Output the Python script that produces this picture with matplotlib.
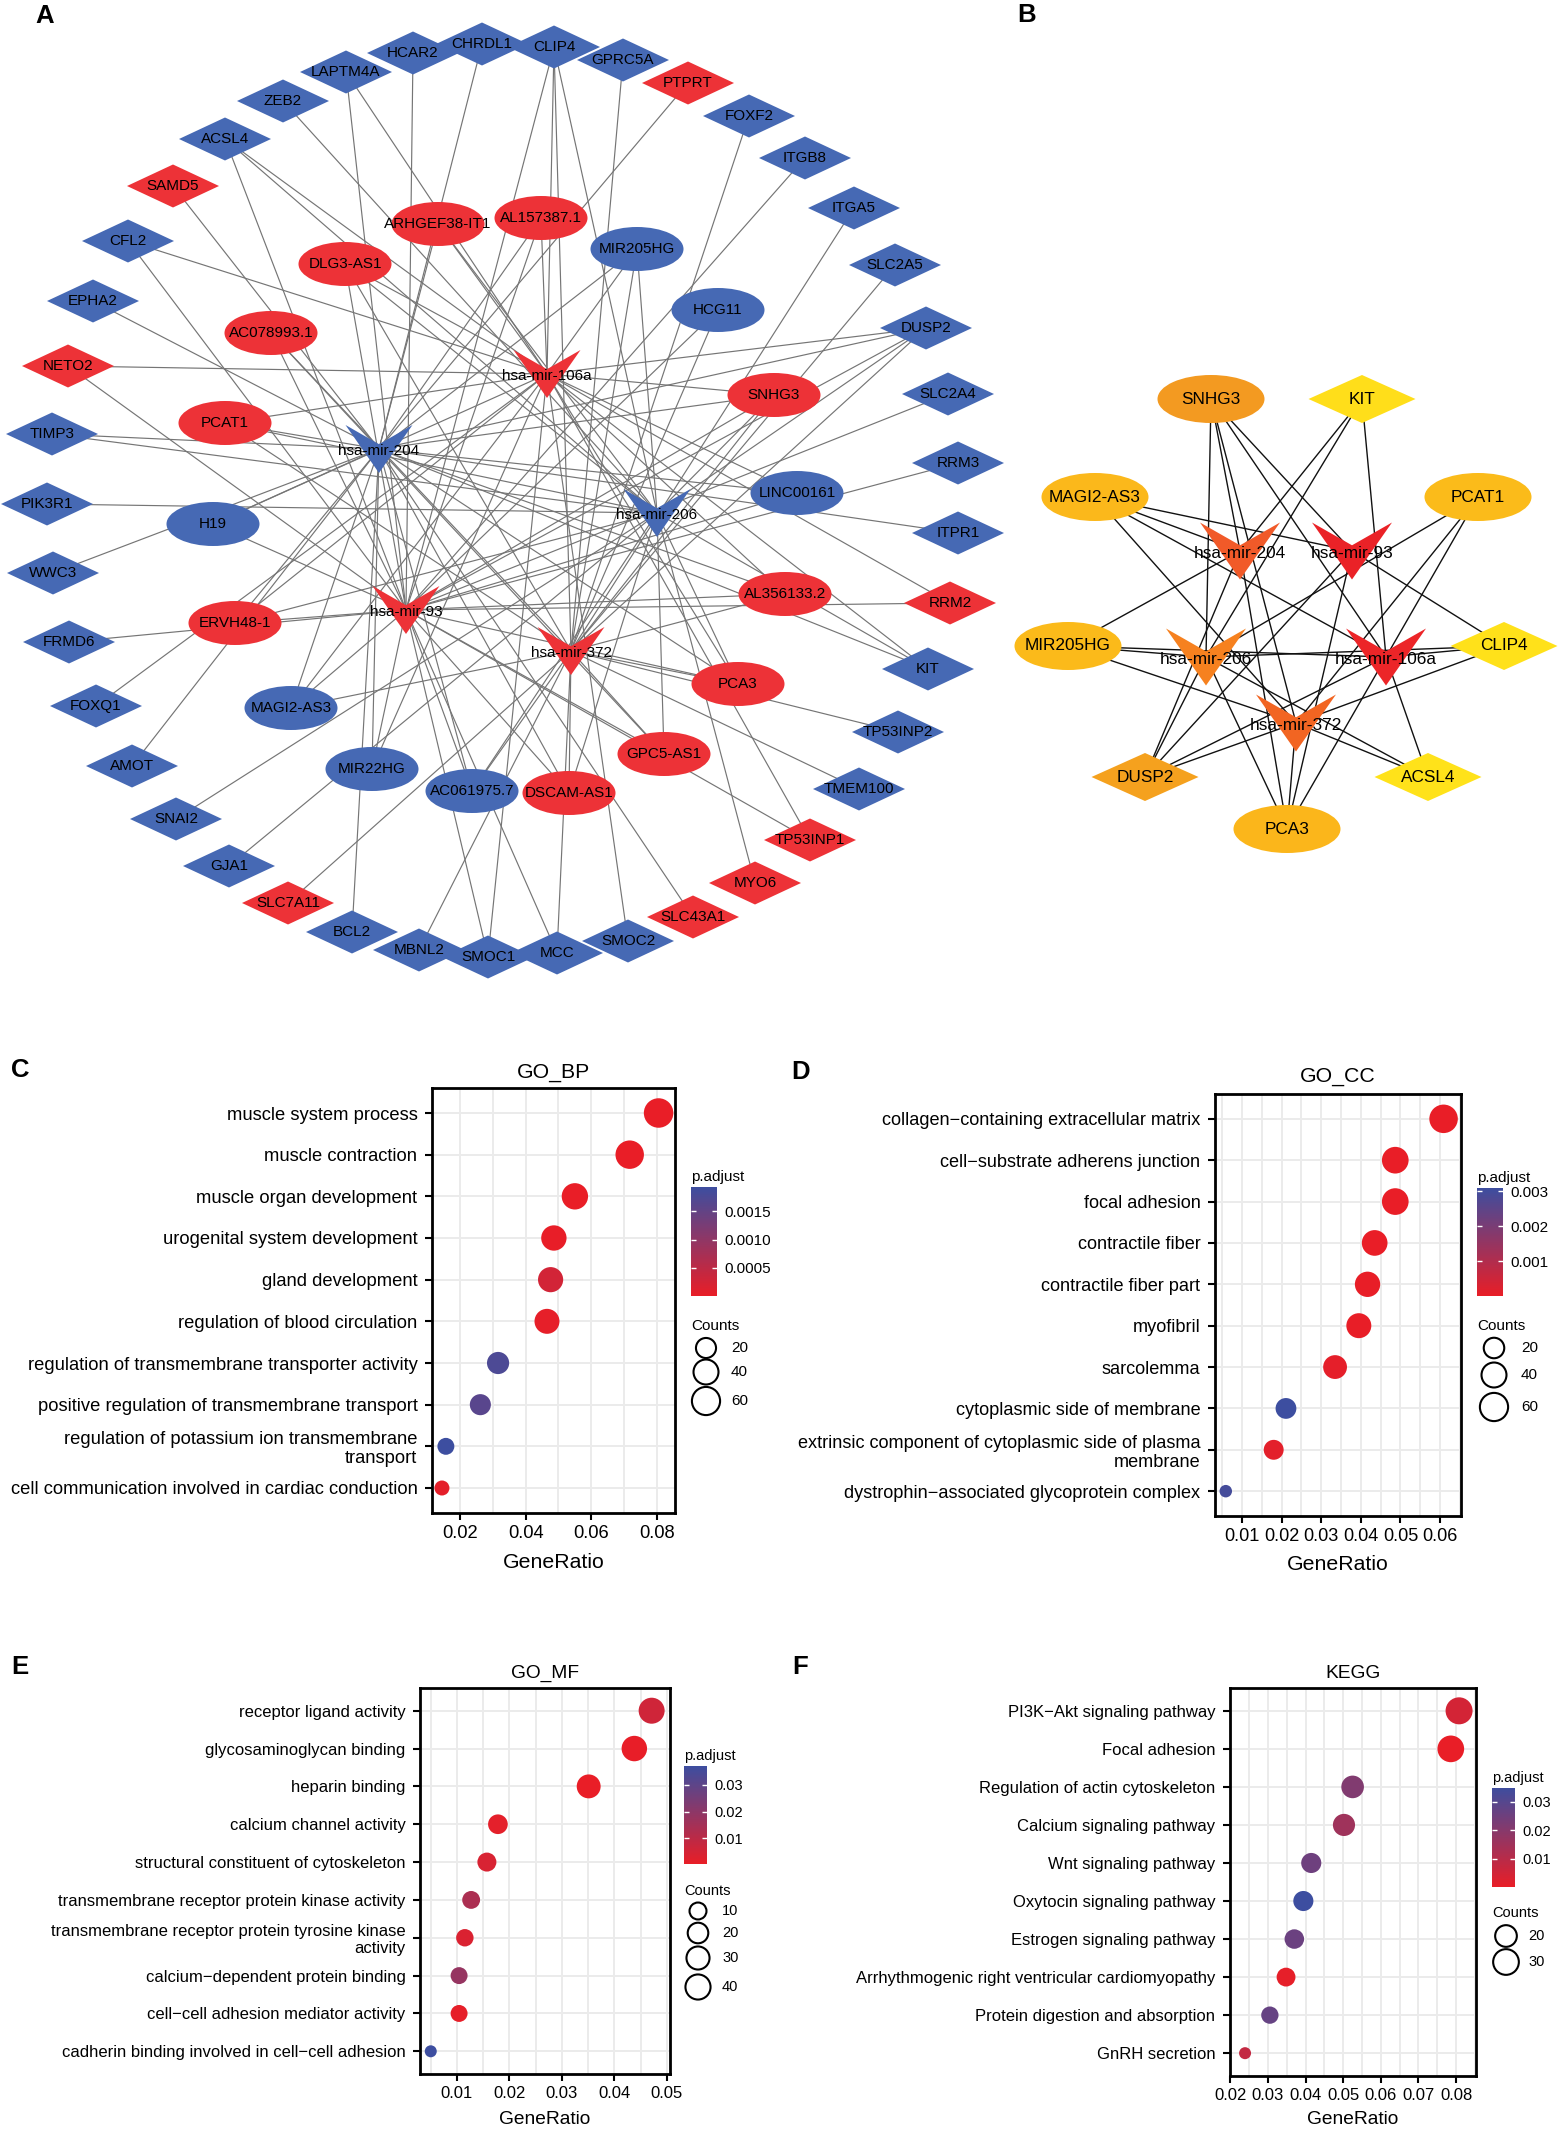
import numpy as np
import matplotlib
matplotlib.use("Agg")
from matplotlib import pyplot as plt
from matplotlib.patches import Ellipse, Polygon
from matplotlib.colors import LinearSegmentedColormap

plt.rcParams['font.family'] = ['Liberation Sans', 'DejaVu Sans']

W, H = 1560, 2129

# ---------------- panel A : ceRNA network (layout) ----------------
# (name, x, y, up-regulated)
a_mirna = [('hsa-mir-106a', 547, 374, 1), ('hsa-mir-204', 379, 449, 0),
           ('hsa-mir-206', 657, 513, 0), ('hsa-mir-93', 406, 610, 1),
           ('hsa-mir-372', 571, 651, 1)]
a_lnc = [('ARHGEF38-IT1', 438, 224, 1), ('AL157387.1', 541, 218, 1), ('DLG3-AS1', 345, 264, 1),
         ('AC078993.1', 271, 333, 1), ('PCAT1', 225, 423, 1), ('MIR205HG', 637, 249, 0),
         ('HCG11', 718, 310, 0), ('SNHG3', 774, 395, 1), ('LINC00161', 797, 493, 0),
         ('H19', 213, 524, 0), ('ERVH48-1', 235, 623, 1), ('MAGI2-AS3', 291, 708, 0),
         ('MIR22HG', 372, 769, 0), ('AC061975.7', 472, 791, 0), ('DSCAM-AS1', 569, 793, 1),
         ('GPC5-AS1', 664, 754, 1), ('PCA3', 738, 684, 1), ('AL356133.2', 785, 594, 1)]
a_mrna = [('HCAR2', 413, 53, 0), ('CHRDL1', 482, 44, 0), ('CLIP4', 554, 47, 0),
          ('GPRC5A', 623, 60, 0), ('PTPRT', 688, 83, 1), ('FOXF2', 749, 116, 0),
          ('ITGB8', 805, 158, 0), ('ITGA5', 854, 208, 0), ('SLC2A5', 895, 265, 0),
          ('DUSP2', 926, 328, 0), ('SLC2A4', 948, 394, 0), ('RRM3', 958, 463, 0),
          ('ITPR1', 958, 533, 0), ('RRM2', 950, 603, 1), ('KIT', 928, 669, 0),
          ('TP53INP2', 898, 732, 0), ('TMEM100', 859, 789, 0), ('TP53INP1', 810, 840, 1),
          ('MYO6', 755, 883, 1), ('SLC43A1', 693, 917, 1), ('SMOC2', 628, 941, 0),
          ('MCC', 557, 953, 0), ('SMOC1', 488, 957, 0), ('MBNL2', 419, 950, 0),
          ('BCL2', 352, 932, 0), ('SLC7A11', 288, 903, 1), ('GJA1', 229, 866, 0),
          ('SNAI2', 176, 819, 0), ('AMOT', 132, 766, 0), ('FOXQ1', 96, 706, 0),
          ('FRMD6', 69, 642, 0), ('WWC3', 53, 573, 0), ('PIK3R1', 47, 504, 0),
          ('TIMP3', 52, 434, 0), ('NETO2', 68, 366, 1), ('EPHA2', 93, 301, 0),
          ('CFL2', 128, 241, 0), ('SAMD5', 173, 186, 1), ('ACSL4', 225, 139, 0),
          ('ZEB2', 283, 101, 0), ('LAPTM4A', 346, 72, 0)]
a_links = {
    'HCAR2': ['93'], 'CHRDL1': ['204'], 'CLIP4': ['106a', '372', '93', '206'],
    'GPRC5A': ['372'], 'PTPRT': ['204'], 'FOXF2': ['372'], 'ITGB8': ['93'],
    'ITGA5': ['372'], 'SLC2A5': ['372'], 'DUSP2': ['204', '206', '93', '372', '106a'],
    'SLC2A4': ['93'], 'RRM3': ['93'], 'ITPR1': ['204'], 'RRM2': ['93', '106a'],
    'KIT': ['206', '204', '106a'], 'TP53INP2': ['372'], 'TMEM100': ['372'],
    'TP53INP1': ['106a', '93'], 'MYO6': ['206'], 'SLC43A1': ['204'], 'SMOC2': ['106a'],
    'MCC': ['372', '93'], 'SMOC1': ['93', '106a'], 'MBNL2': ['372'], 'BCL2': ['204'],
    'SLC7A11': ['372'], 'GJA1': ['206'], 'SNAI2': ['206'], 'AMOT': ['204'],
    'FOXQ1': ['106a'], 'FRMD6': ['93'], 'WWC3': ['204'], 'PIK3R1': ['206'],
    'TIMP3': ['204', '206'], 'NETO2': ['106a', '93'], 'EPHA2': ['204'],
    'CFL2': ['106a', '93'], 'SAMD5': ['204'], 'ACSL4': ['93', '106a', '206'],
    'ZEB2': ['206'], 'LAPTM4A': ['93', '106a'],
    'ARHGEF38-IT1': ['204', '106a', '206'], 'AL157387.1': ['106a', '204', '93'],
    'DLG3-AS1': ['93', '106a', '206', '372'], 'AC078993.1': ['204', '93', '372'],
    'PCAT1': ['106a', '206', '372', '204'], 'MIR205HG': ['204', '206', '372', '106a'],
    'HCG11': ['93', '372'], 'SNHG3': ['106a', '204', '206', '93', '372'],
    'LINC00161': ['106a', '204', '93'], 'H19': ['93', '204', '106a'],
    'ERVH48-1': ['93', '204', '106a', '206'], 'MAGI2-AS3': ['204', '93', '372', '106a'],
    'MIR22HG': ['204', '93', '106a'], 'AC061975.7': ['93', '372', '204', '206'],
    'DSCAM-AS1': ['372', '93', '204', '206'], 'GPC5-AS1': ['372', '93', '206', '204'],
    'PCA3': ['372', '93', '204', '206', '106a'], 'AL356133.2': ['93', '372', '204', '106a'],
}

# ---------------- panel B : hub sub-network ----------------
# (name, x, y, shape, rank)
b_nodes = [('hsa-mir-93', 1352, 551, 'v', 1), ('hsa-mir-106a', 1386, 657, 'v', 2),
           ('hsa-mir-204', 1240, 551, 'v', 3), ('hsa-mir-372', 1296, 723, 'v', 4),
           ('hsa-mir-206', 1206, 657, 'v', 5), ('SNHG3', 1211, 399, 'e', 6),
           ('DUSP2', 1145, 777, 'd', 7), ('PCA3', 1287, 829, 'e', 8),
           ('MAGI2-AS3', 1095, 497, 'e', 9), ('MIR205HG', 1068, 646, 'e', 10),
           ('PCAT1', 1478, 497, 'e', 11), ('KIT', 1362, 399, 'd', 12),
           ('CLIP4', 1504, 646, 'd', 13), ('ACSL4', 1428, 777, 'd', 14)]
b_links = {
    'SNHG3': ['204', '206', '372', '93', '106a'], 'KIT': ['204', '206', '106a'],
    'MAGI2-AS3': ['93', '106a', '372', '204'], 'PCAT1': ['206', '372', '106a'],
    'MIR205HG': ['204', '206', '106a', '372'], 'CLIP4': ['93', '106a', '206', '372'],
    'DUSP2': ['204', '206', '93', '372', '106a'], 'ACSL4': ['206', '106a', '372'],
    'PCA3': ['204', '206', '372', '93', '106a'],
}

# ---------------- panels C-F : enrichment dot plots ----------------
bp_terms = ['muscle system process', 'muscle contraction', 'muscle organ development',
            'urogenital system development', 'gland development',
            'regulation of blood circulation', 'regulation of transmembrane transporter activity',
            'positive regulation of transmembrane transport',
            'regulation of potassium ion transmembrane\ntransport',
            'cell communication involved in cardiac conduction']
bp_ratio = [0.0805, 0.0717, 0.0550, 0.0486, 0.0476, 0.0465, 0.0316, 0.0262, 0.0157, 0.0145]
bp_count = [70, 62, 48, 42, 41, 40, 27, 23, 14, 13]
bp_padj = [2e-8, 5e-8, 3e-6, 2e-5, 2.6e-4, 4e-5, 1.75e-3, 1.62e-3, 1.93e-3, 6e-5]

cc_terms = ['collagen\u2212containing extracellular matrix', 'cell\u2212substrate adherens junction',
            'focal adhesion', 'contractile fiber', 'contractile fiber part', 'myofibril',
            'sarcolemma', 'cytoplasmic side of membrane',
            'extrinsic component of cytoplasmic side of plasma\nmembrane',
            'dystrophin\u2212associated glycoprotein complex']
cc_ratio = [0.0609, 0.0487, 0.0487, 0.0435, 0.0417, 0.0395, 0.0335, 0.0211, 0.0180, 0.0059]
cc_count = [62, 50, 50, 44, 42, 40, 34, 21, 18, 6]
cc_padj = [1e-9, 2e-6, 2e-6, 1e-5, 1.5e-5, 2e-5, 8e-5, 3.1e-3, 1.2e-4, 2.95e-3]

mf_terms = ['receptor ligand activity', 'glycosaminoglycan binding', 'heparin binding',
            'calcium channel activity', 'structural constituent of cytoskeleton',
            'transmembrane receptor protein kinase activity',
            'transmembrane receptor protein tyrosine kinase\nactivity',
            'calcium\u2212dependent protein binding', 'cell\u2212cell adhesion mediator activity',
            'cadherin binding involved in cell\u2212cell adhesion']
mf_ratio = [0.0471, 0.0438, 0.0351, 0.0178, 0.0157, 0.0127, 0.0115, 0.0104, 0.0104, 0.0050]
mf_count = [45, 42, 34, 17, 15, 12, 11, 10, 10, 5]
mf_padj = [0.0058, 0.0006, 0.0003, 0.0015, 0.0040, 0.0135, 0.0035, 0.0180, 0.0010, 0.0371]

kegg_terms = ['PI3K\u2212Akt signaling pathway', 'Focal adhesion', 'Regulation of actin cytoskeleton',
              'Calcium signaling pathway', 'Wnt signaling pathway', 'Oxytocin signaling pathway',
              'Estrogen signaling pathway', 'Arrhythmogenic right ventricular cardiomyopathy',
              'Protein digestion and absorption', 'GnRH secretion']
kegg_ratio = [0.0808, 0.0786, 0.0525, 0.0502, 0.0415, 0.0394, 0.0370, 0.0348, 0.0305, 0.0239]
kegg_count = [34, 33, 22, 21, 17, 17, 16, 15, 13, 10]
kegg_padj = [0.0045, 1e-5, 0.0210, 0.0150, 0.0250, 0.0349, 0.0255, 0.0008, 0.0265, 0.0077]


fig = plt.figure(figsize=(W / 100, H / 100), dpi=100)
canvas = fig.add_axes([0, 0, 1, 1])
canvas.set_xlim(0, W)
canvas.set_ylim(H, 0)
canvas.axis('off')


def px_box(l, t, r, b):
    return [l / W, 1 - b / H, (r - l) / W, (b - t) / H]


def v_shape(x, y, w, h):
    return [(x - w / 2, y - h / 2), (x, y - h / 2 + 0.4 * h), (x + w / 2, y - h / 2), (x, y + h / 2)]


def diamond(x, y, w, h):
    return [(x - w / 2, y), (x, y - h / 2), (x + w / 2, y), (x, y + h / 2)]


# ---- draw A ----
RED, BLUE = '#ED3237', '#4669B4'
mir_xy = {n.split('-')[-1]: (x, y) for n, x, y, u in a_mirna}
pos_a = {n: (x, y) for n, x, y, u in a_mrna + a_lnc}
for n, targets in a_links.items():
    x0, y0 = pos_a[n]
    for t in targets:
        x1, y1 = mir_xy[t]
        canvas.plot([x0, x1], [y0, y1], color='#757575', lw=0.85, zorder=1)
for n, x, y, u in a_mrna:
    canvas.add_patch(Polygon(diamond(x, y, 92, 43), closed=True, fc=RED if u else BLUE, ec='none', zorder=2))
    canvas.text(x, y, n, fontsize=11, ha='center', va='center', zorder=4)
for n, x, y, u in a_lnc:
    canvas.add_patch(Ellipse((x, y), 93, 44, fc=RED if u else BLUE, ec='none', zorder=2))
    canvas.text(x, y, n, fontsize=11, ha='center', va='center', zorder=4)
for n, x, y, u in a_mirna:
    canvas.add_patch(Polygon(v_shape(x, y, 67, 48), closed=True, fc=RED if u else BLUE, ec='none', zorder=3))
    canvas.text(x, y + 2, n, fontsize=11, ha='center', va='center', zorder=4)

# ---- draw B ----
hub_cmap = LinearSegmentedColormap.from_list('hub', [
    (0.0, '#EA2227'), (0.08, '#EC2528'), (0.15, '#F15A29'), (0.23, '#F26522'),
    (0.31, '#F6821F'), (0.38, '#F39A21'), (0.46, '#F5A01E'), (0.54, '#FBB71B'),
    (0.77, '#FBBB1A'), (0.85, '#FFDF1A'), (1.0, '#FFE21A')])
ranks = [r for *_, r in b_nodes]
pos_b = {n: (x, y) for n, x, y, s, r in b_nodes}
bmir = {n.split('-')[-1]: pos_b[n] for n, x, y, s, r in b_nodes if s == 'v'}
for n, targets in b_links.items():
    x0, y0 = pos_b[n]
    for t in targets:
        x1, y1 = bmir[t]
        canvas.plot([x0, x1], [y0, y1], color='#111111', lw=1.0, zorder=1)
for n, x, y, s, r in b_nodes:
    col = hub_cmap((r - min(ranks)) / (max(ranks) - min(ranks)))
    if s == 'e':
        canvas.add_patch(Ellipse((x, y), 107, 48, fc=col, ec='none', zorder=2))
    elif s == 'd':
        canvas.add_patch(Polygon(diamond(x, y, 107, 48), closed=True, fc=col, ec='none', zorder=2))
    else:
        canvas.add_patch(Polygon(v_shape(x, y, 80, 57), closed=True, fc=col, ec='none', zorder=3))
    canvas.text(x, y + (2 if s == 'v' else 0), n, fontsize=12.4, ha='center', va='center', zorder=4)

# ---- dot plots ----
cmap_p = LinearSegmentedColormap.from_list('padj', ['#E91E27', '#3D4EA0'])


def size_px(c, cmin, cmax, dmin, dmax):
    return dmin + np.sqrt((np.asarray(c, float) - cmin) / (cmax - cmin)) * (dmax - dmin)


def dotplot(p):
    l, t, r, b = p['box']
    ax = fig.add_axes(px_box(l, t, r, b))
    n = len(p['terms'])
    ypos = np.arange(n)[::-1]
    cmin, cmax = min(p['count']), max(p['count'])
    d = size_px(p['count'], cmin, cmax, *p['drange'])
    vmin, vmax = min(p['padj']), max(p['padj'])
    ax.scatter(p['ratio'], ypos, s=(d * 0.72) ** 2, c=p['padj'], cmap=cmap_p,
               vmin=vmin, vmax=vmax, linewidths=0, zorder=3)
    ax.set_xlim(*p['xlim'])
    ax.set_ylim(-0.6, n - 0.4)
    ax.set_yticks(ypos)
    ax.set_yticklabels(p['terms'], fontsize=p['fs'], linespacing=1.15)
    ax.set_xticks(p['major'])
    ax.set_xticklabels(['%.2f' % v for v in p['major']], fontsize=p['fs'])
    ax.set_xticks(p['minor'], minor=True)
    ax.grid(True, which='both', axis='both', color='#EBEBEB', lw=1.4)
    ax.set_axisbelow(True)
    ax.tick_params(which='major', length=5, width=1.5, color='black', labelcolor='black')
    ax.tick_params(axis='x', which='major', pad=3.5)
    ax.tick_params(axis='y', which='major', pad=5.5)
    ax.tick_params(which='minor', length=0)
    for sp in ax.spines.values():
        sp.set_linewidth(2)
        sp.set_color('black')
    cx = (l + r) / 2
    canvas.text(cx, p['title_y'], p['title'], fontsize=p['tfs'], ha='center', va='center')
    canvas.text(cx, p['xlab_y'], 'GeneRatio', fontsize=p['tfs'], ha='center', va='center')

    # colour bar
    cl, ct, cr, cb = p['cbar']
    cax = fig.add_axes(px_box(cl, ct, cr, cb))
    grad = np.linspace(vmin, vmax, 256).reshape(-1, 1)
    cax.imshow(grad, extent=[0, 1, vmin, vmax], origin='lower', aspect='auto',
               cmap=cmap_p, vmin=vmin, vmax=vmax)
    cax.set_xticks([])
    cax.set_yticks(p['cticks'])
    cax.set_yticklabels([p['cfmt'] % v for v in p['cticks']], fontsize=p['lfs'])
    cax.tick_params(axis='y', direction='in', left=True, right=True, labelleft=False,
                    labelright=True, color='white', length=(cr - cl) * 0.72 / 5, width=1, pad=5)
    for sp in cax.spines.values():
        sp.set_visible(False)
    canvas.text(cl, ct - 10, 'p.adjust', fontsize=p['lfs'], ha='left', va='center')

    # size legend
    canvas.text(cl, p['counts_y'], 'Counts', fontsize=p['lfs'], ha='left', va='center')
    for c, y in zip(p['leg_counts'], p['leg_y']):
        dd = size_px(c, cmin, cmax, *p['drange'])
        canvas.scatter([p['leg_x']], [y], s=(dd * 0.72) ** 2, facecolors='none',
                       edgecolors='black', linewidths=1.5, zorder=5)
        canvas.text(p['leg_x'] + p['leg_dx'], y, str(c), fontsize=p['lfs'], ha='left', va='center')


panels = [
    dict(box=(432, 1088, 675, 1513), terms=bp_terms, ratio=bp_ratio, count=bp_count, padj=bp_padj,
         xlim=(0.01147, 0.0855), major=[0.02, 0.04, 0.06, 0.08], minor=[0.03, 0.05, 0.07],
         drange=(15, 29.5), fs=13.2, tfs=15.3, lfs=11, title='GO_BP', title_y=1072, xlab_y=1563,
         cbar=(691, 1187, 717, 1296), cticks=[0.0005, 0.0010, 0.0015], cfmt='%.4f',
         counts_y=1326, leg_x=706, leg_y=[1348, 1372, 1401], leg_counts=[20, 40, 60], leg_dx=25),
    dict(box=(1215, 1094, 1461, 1516), terms=cc_terms, ratio=cc_ratio, count=cc_count, padj=cc_padj,
         xlim=(0.00318, 0.0653), major=[0.01, 0.02, 0.03, 0.04, 0.05, 0.06],
         minor=[0.005, 0.015, 0.025, 0.035, 0.045, 0.055, 0.065],
         drange=(12.5, 28.5), fs=13.1, tfs=15.3, lfs=11, title='GO_CC', title_y=1077, xlab_y=1564,
         cbar=(1477, 1188, 1503, 1296), cticks=[0.001, 0.002, 0.003], cfmt='%.3f',
         counts_y=1326, leg_x=1494, leg_y=[1348, 1375, 1407], leg_counts=[20, 40, 60], leg_dx=27),
    dict(box=(420, 1688, 670, 2074), terms=mf_terms, ratio=mf_ratio, count=mf_count, padj=mf_padj,
         xlim=(0.00295, 0.0506), major=[0.01, 0.02, 0.03, 0.04, 0.05],
         minor=[0.005, 0.015, 0.025, 0.035, 0.045],
         drange=(12, 26), fs=12, tfs=13.8, lfs=10.5, title='GO_MF', title_y=1673, xlab_y=2119,
         cbar=(684, 1766, 707, 1864), cticks=[0.01, 0.02, 0.03], cfmt='%.2f',
         counts_y=1891, leg_x=698, leg_y=[1911, 1933, 1958, 1987], leg_counts=[10, 20, 30, 40], leg_dx=24),
    dict(box=(1230, 1688, 1476, 2076), terms=kegg_terms, ratio=kegg_ratio, count=kegg_count, padj=kegg_padj,
         xlim=(0.0199, 0.0853), major=[0.02, 0.03, 0.04, 0.05, 0.06, 0.07, 0.08],
         minor=[0.025, 0.035, 0.045, 0.055, 0.065, 0.075, 0.085],
         drange=(12, 27), fs=12, tfs=13.8, lfs=10.5, title='KEGG', title_y=1673, xlab_y=2120,
         cbar=(1492, 1788, 1515, 1887), cticks=[0.01, 0.02, 0.03], cfmt='%.2f',
         counts_y=1913, leg_x=1506, leg_y=[1936, 1962], leg_counts=[20, 30], leg_dx=22),
]
for p in panels:
    dotplot(p)

# panel letters
for letter, x, y in [('A', 45, 16), ('B', 1027, 15), ('C', 20, 1070), ('D', 801, 1072),
                     ('E', 20, 1667), ('F', 800, 1667)]:
    canvas.text(x, y, letter, fontsize=18.5, fontweight='bold', ha='center', va='center')

fig.savefig('out.png', dpi=100, facecolor='white')
